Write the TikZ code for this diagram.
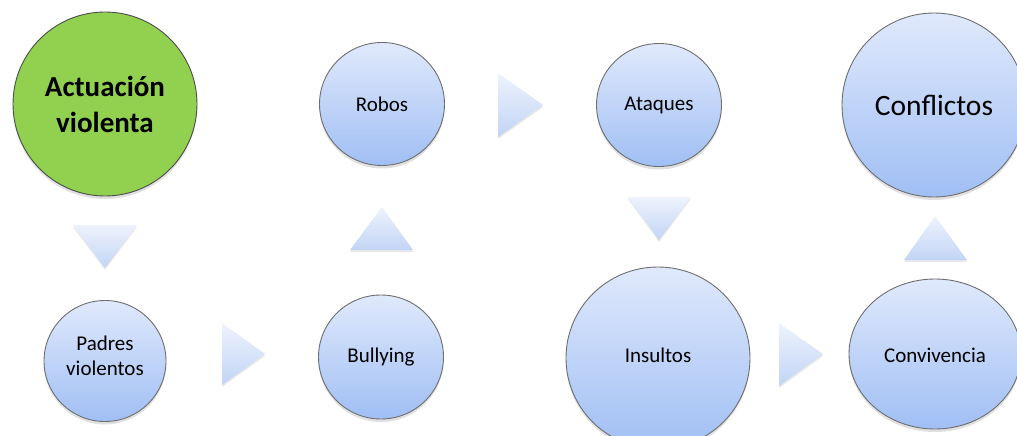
\documentclass[tikz,border=0pt]{standalone}
\usepackage{fontspec}
\setmainfont{Carlito}
\usetikzlibrary{shapes.geometric,shadows}
\definecolor{ctop}{HTML}{E0E9FC}
\definecolor{cbot}{HTML}{A0BFF4}
\definecolor{ttop}{HTML}{EEF3FD}
\definecolor{tbot}{HTML}{C2D4F5}
\definecolor{vgreen}{HTML}{92D050}
\definecolor{edge}{HTML}{6E6E6E}
\tikzset{
  bub/.style={ellipse, inner sep=0pt, draw=edge, line width=0.9pt,
    top color=ctop, bottom color=cbot, font=\fontsize{21}{25}\selectfont, align=center,
    drop shadow={shadow xshift=0pt, shadow yshift=-3pt, opacity=0.2, fill=black!60}},
  greenbub/.style={bub, top color=vgreen, bottom color=vgreen, draw=black!70,
    font=\fontsize{29}{36}\selectfont\bfseries},
  bigtext/.style={font=\fontsize{29.5}{34}\selectfont},
  tri/.style={top color=ttop, bottom color=tbot, draw=none,
    drop shadow={shadow xshift=0pt, shadow yshift=-2pt, opacity=0.15, fill=black!60}}
}
\begin{document}
\begin{tikzpicture}[x=1pt,y=-1pt]
\useasboundingbox (0,0) rectangle (1017,436);
\clip (0,0) rectangle (1017,436);
% nodes
\node[greenbub, minimum width=184pt, minimum height=184pt] (act) at (105,104) {Actuación\\violenta};
\node[bub, minimum width=122pt, minimum height=121pt] (pad) at (105,361) {};
\node[font=\fontsize{21}{25}\selectfont, align=center] (padt) at (105,356) {Padres\\violentos};
\node[bub, minimum width=125pt, minimum height=124pt] (bul) at (381,357) {Bullying};
\node[bub, minimum width=125pt, minimum height=123pt] (rob) at (382,104) {Robos};
\node[bub, minimum width=125pt, minimum height=123pt] (ata) at (659,105) {Ataques};
\node[bub, minimum width=184pt, minimum height=182pt] (ins) at (658,358) {};
\node (inst) at (658,355) {\fontsize{21}{25}\selectfont Insultos};
\node[bub, minimum width=172pt, minimum height=150pt] (con) at (935,354) {};
\node (cont) at (935,355) {\fontsize{21}{25}\selectfont Convivencia};
\node[bub, bigtext, minimum width=184pt, minimum height=184pt] (cnf) at (934,105) {Conflictos};
% arrows (triangles)
\path[tri] (73,225) -- (137,225) -- (105,268) -- cycle;
\path[tri] (222,323) -- (222,385) -- (265,354) -- cycle;
\path[tri] (350,250) -- (413,250) -- (382,207) -- cycle;
\path[tri] (498,73) -- (498,137) -- (543,105) -- cycle;
\path[tri] (628,197) -- (691,197) -- (659,240) -- cycle;
\path[tri] (779,323) -- (779,386) -- (823,354) -- cycle;
\path[tri] (904,260) -- (967,260) -- (935,216) -- cycle;
\end{tikzpicture}
\end{document}
